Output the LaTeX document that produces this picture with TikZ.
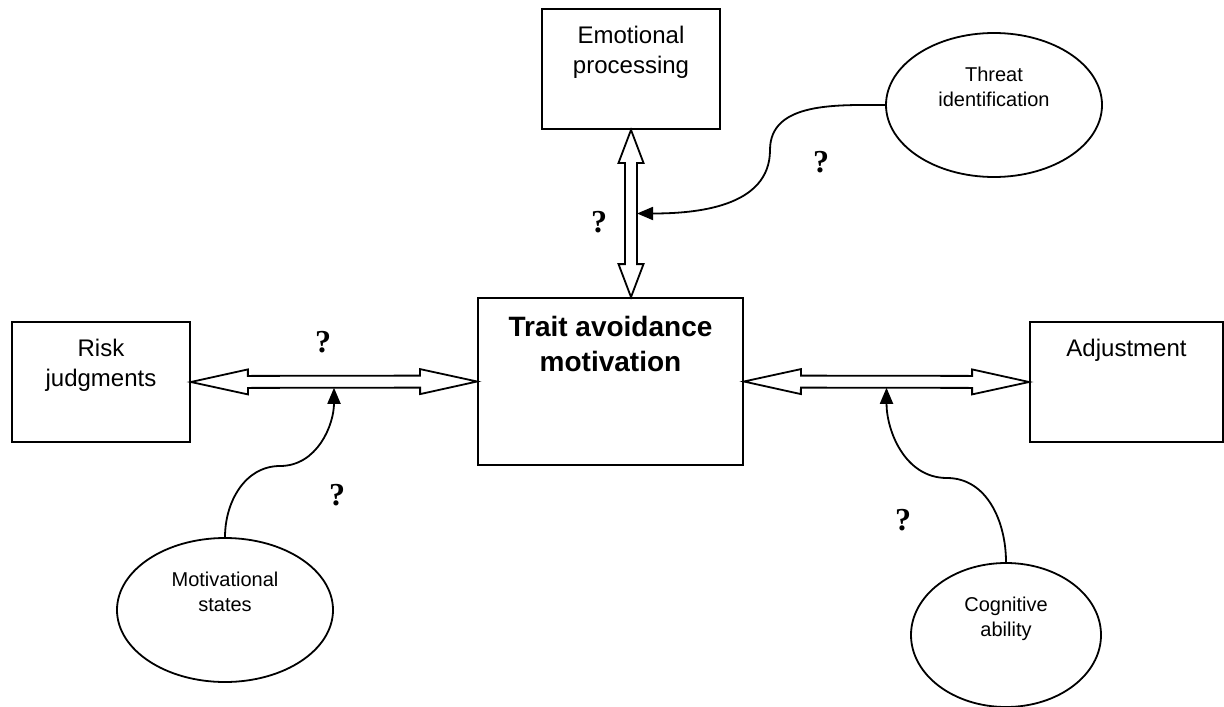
\documentclass[tikz,border=0pt]{standalone}
\usepackage{fontspec}
\setmainfont{Liberation Sans}
\newfontfamily\qfont{Liberation Serif}
\usetikzlibrary{arrows.meta,calc,shapes.geometric}

\tikzset{
  box/.style={draw, line width=0.9pt, rectangle, inner sep=0pt,
    minimum width=89pt, minimum height=60pt},
  oval/.style={draw, line width=0.9pt, ellipse, inner sep=0pt,
    minimum width=108pt, minimum height=72pt},
  boxtext/.style={anchor=north, yshift=-9pt, inner sep=0pt, align=center,
    font=\fontsize{12}{15}\selectfont},
  ovaltext/.style={anchor=north, yshift=-17.3pt, inner sep=0pt, align=center,
    font=\fontsize{10}{12.5}\selectfont},
  qmark/.style={font=\qfont\bfseries\fontsize{16}{16}\selectfont, inner sep=0pt},
  blockarrow/.style={draw, line width=0.9pt, fill=white, line join=miter},
  curvearrow/.style={draw, line width=0.9pt, -{Triangle[length=8pt,width=6.5pt]}},
}

% hollow double-headed arrow: from, to, head length
\newcommand\dblarrow[3]{%
  \coordinate (ba-a) at ($(#1)!#3!(#2)$);
  \coordinate (ba-b) at ($(#2)!#3!(#1)$);
  \coordinate (ba-n) at ($($(#1)!1pt!90:(#2)$)-(#1)$);
  \draw[blockarrow] (#1)
    -- ($(ba-a)+6.25*(ba-n)$) -- ($(ba-a)+3*(ba-n)$)
    -- ($(ba-b)+3*(ba-n)$) -- ($(ba-b)+6.25*(ba-n)$)
    -- (#2)
    -- ($(ba-b)-6.25*(ba-n)$) -- ($(ba-b)-3*(ba-n)$)
    -- ($(ba-a)-3*(ba-n)$) -- ($(ba-a)-6.25*(ba-n)$)
    -- cycle;}

\begin{document}
\begin{tikzpicture}[x=0.5pt, y=-0.5pt]
\useasboundingbox (0,0) rectangle (1224,706);

% boxes
\node[box] (emo) at (631,69)
  [label={[boxtext]north:{Emotional\\processing}}] {};
\node[box, minimum width=132.5pt, minimum height=83.5pt] (trait) at (610.5,381.5)
  [label={[boxtext, yshift=-0.5pt, font=\bfseries\fontsize{14}{17.5}\selectfont]north:{Trait avoidance\\motivation}}] {};
\node[box] (risk) at (101,382)
  [label={[boxtext]north:{Risk\\judgments}}] {};
\node[box, minimum width=96.5pt] (adj) at (1126.5,382)
  [label={[boxtext]north:{Adjustment}}] {};

% ovals
\node[oval] (threat) at (994,105)
  [label={[ovaltext]north:{Threat\\identification}}] {};
\node[oval] (motiv) at (225,610)
  [label={[ovaltext]north:{Motivational\\states}}] {};
\node[oval, minimum width=95pt] (cog) at (1006,635)
  [label={[ovaltext]north:{Cognitive\\ability}}] {};

% block arrows
\coordinate (emo-tip) at (emo.south |- trait.north);
\dblarrow{emo.south}{emo-tip}{16.5pt}
\dblarrow{risk.east}{trait.west}{28.5pt}
\dblarrow{trait.east}{adj.west}{28.5pt}

% moderators
\coordinate (thr-end) at ($(emo.south)!.5!(emo-tip)+(6,0)$);
\coordinate (thr-bend) at (770,150);
\coordinate (mot-end) at ($(risk.east)!.5!(trait.west)+(0,6)$);
\coordinate (mot-bend) at (280,466);
\coordinate (cog-end) at ($(trait.east)!.5!(adj.west)+(0,6)$);
\coordinate (cog-bend) at (947,478);

\draw[curvearrow] (threat.west) to[out=180,in=90] (thr-bend)
  to[out=270,in=0] (thr-end);
\draw[curvearrow] (motiv.north) to[out=90,in=180] (mot-bend)
  to[out=0,in=270] (mot-end);
\draw[curvearrow] (cog.north) to[out=90,in=0] (cog-bend)
  to[out=180,in=270] (cog-end);

% question marks
\node[qmark] (q1) at (599,222) {?};
\node[qmark] (q2) at (821,162) {?};
\node[qmark] (q3) at (323,342) {?};
\node[qmark] (q4) at (337,495) {?};
\node[qmark] (q5) at (903,520) {?};
\end{tikzpicture}
\end{document}
